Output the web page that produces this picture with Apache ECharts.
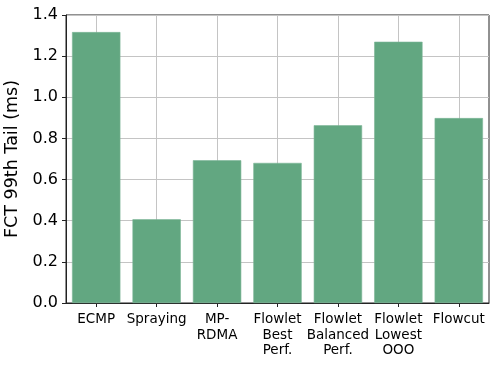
<!DOCTYPE html>
<html>
<head>
<meta charset="utf-8">
<script src="https://cdn.jsdelivr.net/npm/echarts@6/dist/echarts.min.js"></script>
<style>html,body{margin:0;padding:0;background:#fff}#c{width:498px;height:366px}</style>
</head>
<body>
<div id="c"></div>
<script>
var categories = ['ECMP', 'Spraying', 'MP-\nRDMA', 'Flowlet\nBest\nPerf.', 'Flowlet\nBalanced\nPerf.', 'Flowlet\nLowest\nOOO', 'Flowcut'];
var values = [1.317, 0.407, 0.694, 0.681, 0.864, 1.270, 0.899];
var yTicks = [0.0, 0.2, 0.4, 0.6, 0.8, 1.0, 1.2, 1.4];
var yTitle = 'FCT 99th Tail (ms)';

// helper axis positions for vertical gridlines at category centres
var gridPos = [];
for (var i = 0; i <= categories.length * 2; i++) gridPos.push(String(i));

var chart = echarts.init(document.getElementById('c'), null, {renderer: 'canvas'});
var font = 'DejaVu Sans';
chart.setOption({
  animation: false,
  backgroundColor: '#fff',
  grid: {left: 66, top: 15, right: 9, bottom: 63, containLabel: false, outerBoundsMode: 'none',
    show: true, borderColor: '#222', borderWidth: 1, backgroundColor: 'transparent'},
  xAxis: [{
    type: 'category',
    data: categories,
    boundaryGap: true,
    axisLine: {show: true, lineStyle: {color: '#222', width: 1}},
    axisTick: {show: true, alignWithLabel: true, length: 4, lineStyle: {color: '#222'}},
    axisLabel: {color: '#000', fontFamily: font, fontSize: 13.5, lineHeight: 15.5, margin: 9, interval: 0},
    splitLine: {show: false}
  }, {
    type: 'category',
    data: gridPos,
    boundaryGap: false,
    position: 'bottom',
    axisLine: {show: false},
    axisTick: {show: false},
    axisLabel: {show: false},
    splitLine: {show: true, interval: function (idx) { return idx % 2 === 1; }, lineStyle: {color: '#c4c4c4', width: 1}}
  }],
  yAxis: {
    type: 'value',
    min: 0, max: 1.4, interval: 0.2,
    name: yTitle,
    nameLocation: 'middle',
    nameGap: 40,
    nameTextStyle: {color: '#000', fontFamily: font, fontSize: 17.5},
    axisLine: {show: true, lineStyle: {color: '#222', width: 1}},
    axisTick: {show: true, length: 4, lineStyle: {color: '#222'}},
    axisLabel: {color: '#000', fontFamily: font, fontSize: 16, margin: 8,
      formatter: function (v) { return v.toFixed(1); }},
    splitLine: {show: true, lineStyle: {color: '#c4c4c4', width: 1}}
  },
  series: [{
    type: 'bar',
    xAxisIndex: 0,
    data: values,
    barCategoryGap: '20%',
    itemStyle: {color: '#62a781', borderColor: '#7cb697', borderWidth: 0.6},
    z: 5
  }]
});
</script>
</body>
</html>
